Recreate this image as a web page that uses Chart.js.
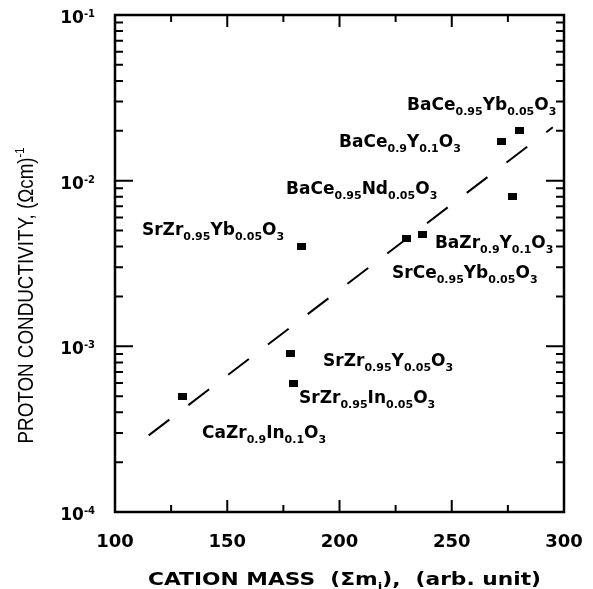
<!DOCTYPE html>
<html>
<head>
<meta charset="utf-8">
<script src="https://cdn.jsdelivr.net/npm/chart.js@4.4.1/dist/chart.umd.min.js"></script>
<style>
  html, body { margin: 0; padding: 0; background: #fff; }
  #wrap { width: 593px; height: 589px; }
</style>
</head>
<body>
<div id="wrap"><canvas id="chart" width="593" height="589"></canvas></div>
<script>
// measured points (cation mass vs proton conductivity)
const compounds = [
  'BaCe_{0.95}Yb_{0.05}O_{3}',
  'BaCe_{0.9}Y_{0.1}O_{3}',
  'BaCe_{0.95}Nd_{0.05}O_{3}',
  'SrZr_{0.95}Yb_{0.05}O_{3}',
  'BaZr_{0.9}Y_{0.1}O_{3}',
  'SrCe_{0.95}Yb_{0.05}O_{3}',
  'SrZr_{0.95}Y_{0.05}O_{3}',
  'SrZr_{0.95}In_{0.05}O_{3}',
  'CaZr_{0.9}In_{0.1}O_{3}'
];
const cationMass   = [280, 272, 277, 183, 237, 230, 178, 179.5, 130];
const conductivity = [2.0e-2, 1.72e-2, 8.0e-3, 4.0e-3, 4.7e-3, 4.5e-3, 9.0e-4, 6.0e-4, 5.0e-4];

// where each formula label starts (left edge / baseline, in data units)
const labelMass = [230.1, 199.8, 176.2, 112.0, 242.5, 223.4, 192.7, 182.0, 138.75];
const labelCond = [2.67e-2, 1.6e-2, 8.3e-3, 4.7e-3, 3.92e-3, 2.585e-3, 7.6e-4, 4.55e-4, 2.8e-4];

// dashed trend line
const fitMass = [115, 295];
const fitCond = [2.9e-4, 2.1e-2];

const xTicks = [100, 150, 200, 250, 300];
const xMinor = [125, 175, 225, 275];
const yExponents = [-4, -3, -2, -1];

const xTitle = 'CATION MASS  (Σm_{i}),  (arb. unit)';
const yTitle = 'PROTON CONDUCTIVITY, (Ωcm)^{-1}';

// split 'A_{b}C^{d}' into [text, kind] parts
function parseRich(str) {
  const parts = [];
  const re = /([_^])\{([^}]*)\}/g;
  let last = 0, m;
  while ((m = re.exec(str)) !== null) {
    if (m.index > last) parts.push([str.slice(last, m.index), '']);
    parts.push([m[2], m[1] === '_' ? 'sub' : 'sup']);
    last = re.lastIndex;
  }
  if (last < str.length) parts.push([str.slice(last), '']);
  return parts;
}

function drawRich(ctx, str, x, y, o) {
  const parts = parseRich(str);
  const fontFor = k => o.weight + ' ' + (k === '' ? o.size : o.small) + 'px ' + o.family;
  let w = 0;
  parts.forEach(p => { ctx.font = fontFor(p[1]); w += ctx.measureText(p[0]).width; });
  const sx = o.width ? o.width / w : 1;
  ctx.save();
  ctx.translate(x, y);
  if (o.rotate) ctx.rotate(o.rotate);
  ctx.scale(sx, 1);
  let cx = 0;
  if (o.align === 'center') cx = -w / 2;
  if (o.align === 'right') cx = -w;
  ctx.fillStyle = '#000';
  ctx.textBaseline = 'alphabetic';
  ctx.textAlign = 'left';
  parts.forEach(p => {
    ctx.font = fontFor(p[1]);
    const dy = p[1] === 'sub' ? o.subDy : p[1] === 'sup' ? -o.supDy : 0;
    ctx.fillText(p[0], cx, dy);
    cx += ctx.measureText(p[0]).width;
  });
  ctx.restore();
}

const marker = document.createElement('canvas');
marker.width = 9;
marker.height = 7;
marker.getContext('2d').fillRect(0, 0, 9, 7);

const framePlugin = {
  id: 'framePlugin',
  afterDraw(chart) {
    const ctx = chart.ctx;
    const a = chart.chartArea;
    const xs = chart.scales.x, ys = chart.scales.y;
    ctx.save();
    ctx.strokeStyle = '#000';
    ctx.lineCap = 'butt';

    // ticks (inside, on all four sides)
    ctx.lineWidth = 2;
    ctx.beginPath();
    const xt = (v, len) => {
      const px = xs.getPixelForValue(v);
      ctx.moveTo(px, a.bottom); ctx.lineTo(px, a.bottom - len);
      ctx.moveTo(px, a.top); ctx.lineTo(px, a.top + len);
    };
    xTicks.slice(1, -1).forEach(v => xt(v, 12));
    xMinor.forEach(v => xt(v, 7));
    const yt = (v, len) => {
      const py = ys.getPixelForValue(v);
      ctx.moveTo(a.left, py); ctx.lineTo(a.left + len, py);
      ctx.moveTo(a.right, py); ctx.lineTo(a.right - len, py);
    };
    yExponents.forEach((e, i) => {
      if (i > 0 && i < yExponents.length - 1) yt(Math.pow(10, e), 18);
      if (i < yExponents.length - 1) {
        for (let m = 2; m <= 9; m++) yt(m * Math.pow(10, e), 8);
      }
    });
    ctx.stroke();

    // frame
    ctx.lineWidth = 2.5;
    ctx.strokeRect(a.left, a.top, a.right - a.left, a.bottom - a.top);
    ctx.restore();

    // tick labels
    xTicks.forEach(v => {
      drawRich(ctx, String(v), xs.getPixelForValue(v), a.bottom + 35,
        {family: '"DejaVu Sans"', weight: 'bold', size: 18, small: 11, align: 'center'});
    });
    yExponents.forEach(e => {
      drawRich(ctx, '10^{' + e + '}', a.left - 20, ys.getPixelForValue(Math.pow(10, e)) + 8,
        {family: '"DejaVu Sans"', weight: 'bold', size: 17, small: 10, supDy: 6, align: 'right'});
    });

    // axis titles
    drawRich(ctx, xTitle, (a.left + a.right) / 2 + 5, 585,
      {family: '"DejaVu Sans"', weight: 'bold', size: 18, small: 11, subDy: 5, align: 'center', width: 393});
    drawRich(ctx, yTitle, 33, (a.top + a.bottom) / 2 + 32,
      {family: '"Liberation Sans"', weight: 'normal', size: 22, small: 13, supDy: 9, align: 'center', width: 296, rotate: -Math.PI / 2});

    // formula labels
    compounds.forEach((c, i) => {
      drawRich(ctx, c, xs.getPixelForValue(labelMass[i]), ys.getPixelForValue(labelCond[i]),
        {family: '"DejaVu Sans"', weight: 'bold', size: 17, small: 11, subDy: 5, align: 'left'});
    });
  }
};

new Chart(document.getElementById('chart'), {
  type: 'scatter',
  data: {
    datasets: [
      {
        label: 'measured',
        data: cationMass.map((m, i) => ({x: m, y: conductivity[i]})),
        pointStyle: marker,
        pointRadius: 5,
        showLine: false
      },
      {
        label: 'trend',
        data: fitMass.map((m, i) => ({x: m, y: fitCond[i]})),
        showLine: true,
        borderColor: '#000',
        borderWidth: 2,
        borderDash: [26, 24],
        pointRadius: 0
      }
    ]
  },
  options: {
    responsive: false,
    animation: false,
    layout: { padding: { left: 115, top: 15, right: 29, bottom: 77 } },
    plugins: { legend: { display: false }, tooltip: { enabled: false } },
    scales: {
      x: { type: 'linear', min: 100, max: 300, display: false },
      y: { type: 'logarithmic', min: 1e-4, max: 1e-1, display: false }
    }
  },
  plugins: [framePlugin]
});
</script>
</body>
</html>
